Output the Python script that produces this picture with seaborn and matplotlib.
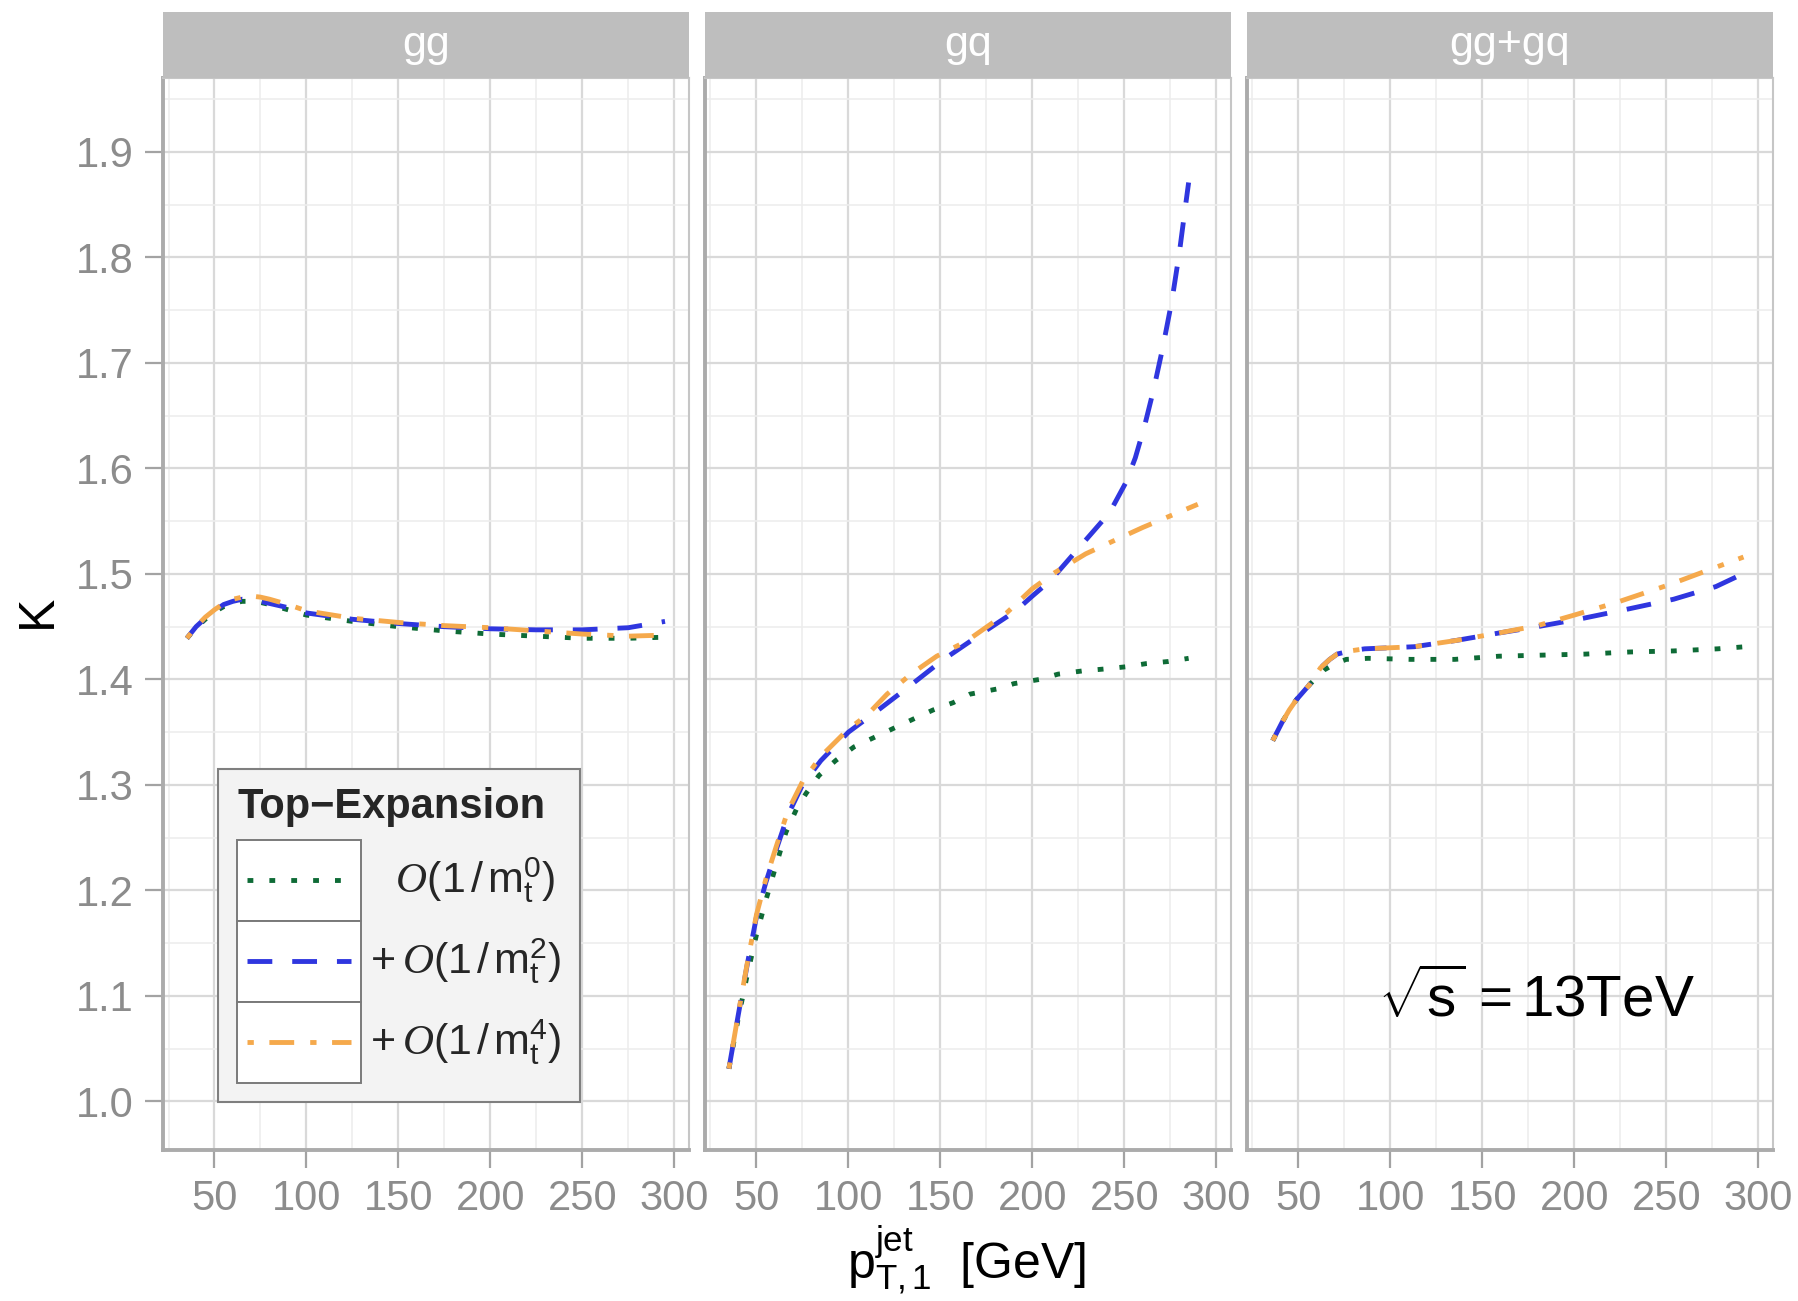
import matplotlib
matplotlib.use("Agg")
import numpy as np
import pandas as pd
import matplotlib.pyplot as plt
import seaborn as sns
from matplotlib.patches import Rectangle
from matplotlib.lines import Line2D
from matplotlib.legend_handler import HandlerLine2D
from matplotlib.ticker import MultipleLocator

# ---------------------------------------------------------------------------
# K-factors versus leading-jet pT for the individual channels
# ---------------------------------------------------------------------------
channels = ["gg", "gq", "gg+gq"]
orders = ["m0", "m2", "m4"]
order_labels = [
    r"$\enspace\ O(1\,/\,\mathrm{m}_{\mathrm{t}}^{0})$",
    r"$+\:O(1\,/\,\mathrm{m}_{\mathrm{t}}^{2})$",
    r"$+\:O(1\,/\,\mathrm{m}_{\mathrm{t}}^{4})$",
]
order_colors = ["#0E6B36", "#2F36DF", "#F5A94C"]

# gg channel
gg_pt = [35, 40, 45, 50, 55, 60, 65, 70, 75, 80, 90, 100, 125, 150, 175, 200, 225, 250, 275, 295]
gg_m0 = [1.439, 1.449, 1.457, 1.464, 1.469, 1.472, 1.474, 1.474, 1.473, 1.471, 1.466, 1.461,
         1.455, 1.450, 1.446, 1.443, 1.441, 1.439, 1.439, 1.440]
gg_m2 = [1.439, 1.450, 1.458, 1.465, 1.471, 1.474, 1.476, 1.475, 1.474, 1.472, 1.468, 1.463,
         1.457, 1.453, 1.450, 1.448, 1.447, 1.447, 1.449, 1.455]
gg_m4 = [1.439, 1.450, 1.459, 1.466, 1.472, 1.476, 1.478, 1.479, 1.478, 1.476, 1.471, 1.465,
         1.458, 1.454, 1.451, 1.449, 1.446, 1.443, 1.441, 1.442]

# gq channel
gq_m0_pt = [35, 40, 45, 50, 55, 60, 66, 72, 77, 84, 93, 103, 114, 125, 136, 146, 157, 166,
            181, 190, 204, 214, 227, 240, 251, 262, 274, 285]
gq_m0 = [1.031, 1.078, 1.120, 1.158, 1.190, 1.220, 1.255, 1.278, 1.292, 1.309, 1.323, 1.336,
         1.345, 1.354, 1.363, 1.371, 1.378, 1.386, 1.391, 1.396, 1.400, 1.405, 1.408, 1.410,
         1.412, 1.415, 1.417, 1.420]
gq_m2_pt = [35, 40, 45, 50, 55, 61, 67, 75, 85, 100, 117, 132, 151, 172, 191, 200, 210, 225,
            242, 251, 256, 261, 266, 271, 276, 280, 283, 285]
gq_m2 = [1.031, 1.081, 1.130, 1.175, 1.207, 1.240, 1.271, 1.300, 1.323, 1.350, 1.372, 1.392,
         1.418, 1.443, 1.465, 1.479, 1.494, 1.524, 1.558, 1.587, 1.610, 1.640, 1.675, 1.715,
         1.760, 1.805, 1.845, 1.871]
gq_m4_pt = [35, 40, 45, 50, 55, 61, 67, 75, 85, 100, 110, 121, 134, 148, 164, 186, 200, 212,
            229, 245, 260, 275, 290]
gq_m4 = [1.031, 1.082, 1.131, 1.177, 1.210, 1.243, 1.275, 1.303, 1.327, 1.353, 1.366, 1.386,
         1.405, 1.422, 1.436, 1.463, 1.486, 1.501, 1.519, 1.532, 1.544, 1.555, 1.566]

# gg+gq combined
tot_m0_pt = [36, 41, 45, 49, 56, 64, 70, 76, 88, 111, 135, 159, 182, 206, 230, 254, 278, 293]
tot_m0 = [1.342, 1.359, 1.371, 1.381, 1.395, 1.409, 1.415, 1.419, 1.420, 1.419, 1.419, 1.422,
          1.423, 1.424, 1.426, 1.427, 1.429, 1.431]
tot_m2_pt = [36, 41, 45, 49, 56, 62, 67, 71, 78, 86, 100, 113, 136, 159, 180, 205, 230, 254,
             277, 294]
tot_m2 = [1.342, 1.359, 1.371, 1.381, 1.395, 1.411, 1.419, 1.424, 1.427, 1.429, 1.430, 1.431,
          1.437, 1.444, 1.450, 1.458, 1.467, 1.476, 1.488, 1.502]
tot_m4_pt = [36, 41, 45, 49, 56, 62, 67, 71, 78, 86, 100, 113, 136, 159, 180, 200, 223, 252,
             275, 292]
tot_m4 = [1.342, 1.359, 1.371, 1.381, 1.395, 1.411, 1.419, 1.424, 1.427, 1.429, 1.430, 1.431,
          1.437, 1.444, 1.451, 1.461, 1.473, 1.490, 1.505, 1.516]

x_ticks = [50, 100, 150, 200, 250, 300]
y_ticks = [1.0, 1.1, 1.2, 1.3, 1.4, 1.5, 1.6, 1.7, 1.8, 1.9]
x_limits = (22.0, 308.0)
y_limits = (0.954, 1.970)


def frame(channel, order, pt, k):
    return pd.DataFrame({"channel": channel, "order": order, "pt": pt, "K": k})


data = pd.concat([
    frame("gg", "m0", gg_pt, gg_m0),
    frame("gg", "m2", gg_pt, gg_m2),
    frame("gg", "m4", gg_pt, gg_m4),
    frame("gq", "m0", gq_m0_pt, gq_m0),
    frame("gq", "m2", gq_m2_pt, gq_m2),
    frame("gq", "m4", gq_m4_pt, gq_m4),
    frame("gg+gq", "m0", tot_m0_pt, tot_m0),
    frame("gg+gq", "m2", tot_m2_pt, tot_m2),
    frame("gg+gq", "m4", tot_m4_pt, tot_m4),
], ignore_index=True)

# ---------------------------------------------------------------------------
# styling
# ---------------------------------------------------------------------------
sns.set_theme(style="white")
plt.rcParams["font.family"] = ["Liberation Sans", "DejaVu Sans"]
plt.rcParams["mathtext.fontset"] = "custom"
plt.rcParams["mathtext.rm"] = "Liberation Sans"
plt.rcParams["mathtext.sf"] = "Liberation Sans"
plt.rcParams["mathtext.it"] = "Liberation Serif:italic"
plt.rcParams["mathtext.bf"] = "Liberation Sans:bold"

palette = dict(zip(orders, order_colors))
dash_styles = {"m0": (1.2, 3.3), "m2": (5.1, 4.1), "m4": (1.3, 3.2, 5.1, 3.3)}
line_width = 3.5

fig, axes = plt.subplots(1, 3, figsize=(17.99, 13.01), dpi=100, sharey=True)
fig.subplots_adjust(left=0.0906, right=0.9855, top=0.940, bottom=0.1161, wspace=0.0305)

tick_grey = "#8C8C8C"
strip_height = 66.0 / 1072.0

for ax, channel in zip(axes, channels):
    sns.lineplot(
        data=data[data["channel"] == channel], x="pt", y="K",
        hue="order", style="order", hue_order=orders, style_order=orders,
        palette=palette, dashes=dash_styles, linewidth=line_width,
        estimator=None, sort=True, legend=False, ax=ax,
    )
    ax.set_xlim(*x_limits)
    ax.set_ylim(*y_limits)
    ax.set_xticks(x_ticks)
    ax.set_yticks(y_ticks)
    ax.xaxis.set_minor_locator(MultipleLocator(25))
    ax.yaxis.set_minor_locator(MultipleLocator(0.05))
    ax.set_axisbelow(True)
    ax.grid(which="major", color="#D9D9D9", linewidth=1.6)
    ax.grid(which="minor", color="#EDEDED", linewidth=1.2)
    ax.set_xlabel("")
    ax.set_ylabel("")
    ax.tick_params(axis="both", which="major", length=13, width=1.6, color="#A3A3A3",
                   labelcolor=tick_grey, labelsize=30, pad=8)
    ax.tick_params(axis="both", which="minor", length=0)
    ax.tick_params(axis="x", bottom=True)
    for side in ("top", "right"):
        ax.spines[side].set_color("#C6C6C6")
        ax.spines[side].set_linewidth(1.5)
    for side in ("left", "bottom"):
        ax.spines[side].set_color("#ABABAB")
        ax.spines[side].set_linewidth(2.8)

    # facet strip
    ax.add_patch(Rectangle((0, 1), 1, strip_height, transform=ax.transAxes,
                           facecolor="#BEBEBE", edgecolor="none", clip_on=False, zorder=3))
    ax.text(0.5, 1 + strip_height / 2, channel, transform=ax.transAxes, ha="center",
            va="center", color="white", fontsize=31, zorder=4)

axes[0].set_yticklabels([f"{v:.1f}" for v in y_ticks])
axes[0].tick_params(axis="y", left=True)
for ax in axes[1:]:
    ax.tick_params(axis="y", left=False, labelleft=False)

axes[2].text(179.5, 1.096, r"$\sqrt{\mathrm{s}}\,=13\mathrm{TeV}$", ha="center", va="center",
             fontsize=42, color="black")

fig.text(0.021, 0.530, "K", rotation=90, ha="center", va="center", fontsize=36, color="black")
fig.text(0.537, 0.031, r"$\mathrm{p}_{\mathrm{T,1}}^{\mathrm{jet}}$  [GeV]", ha="center",
         va="center", fontsize=36, color="black")


# ---------------------------------------------------------------------------
# legend with boxed keys
# ---------------------------------------------------------------------------
class BoxedKey(HandlerLine2D):
    def create_artists(self, legend, orig_handle, xdescent, ydescent, width, height,
                       fontsize, trans):
        box = Rectangle((-xdescent, -ydescent), width, height, facecolor="white",
                        edgecolor="#7A7A7A", linewidth=1.4, transform=trans)
        inset = 0.08 * width
        ymid = height / 2.0 - ydescent
        line = Line2D([-xdescent + inset, width - xdescent - inset], [ymid, ymid])
        self.update_prop(line, orig_handle, legend)
        line.set_transform(trans)
        return [box, line]


label_size = 31
key_px = 81.0 / (label_size * 100 / 72)
handles = [Line2D([], [], color=c, linewidth=line_width, dashes=dash_styles[o])
           for o, c in zip(orders, order_colors)]
leg = axes[0].legend(
    handles, order_labels, title="Top\u2212Expansion", loc="lower left",
    bbox_to_anchor=(0.105, 0.0448), borderaxespad=0, fontsize=label_size,
    title_fontproperties={"weight": "bold", "size": 30}, alignment="left",
    handlelength=124.0 / (label_size * 100 / 72),
    handleheight=(key_px - 0.245) / 0.65, labelspacing=0, handletextpad=0.2,
    borderpad=0.44, frameon=True, fancybox=False, framealpha=1,
    handler_map={Line2D: BoxedKey()},
)
leg._legend_box.sep = 9
leg.get_frame().set_facecolor("#F3F3F3")
leg.get_frame().set_edgecolor("#7F7F7F")
leg.get_frame().set_linewidth(1.5)
leg.set_zorder(10)

fig.savefig("out.png", dpi=100)
